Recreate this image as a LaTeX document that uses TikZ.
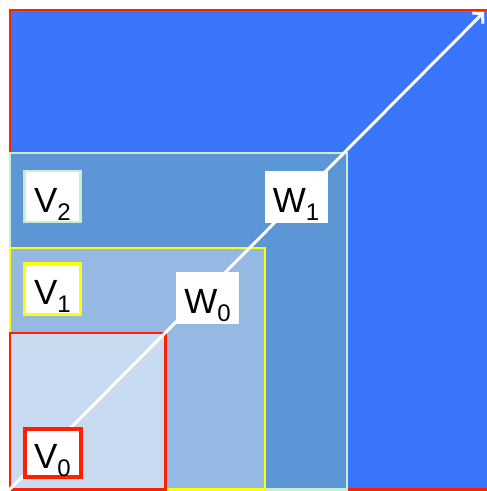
\documentclass[tikz,border=0pt]{standalone}
\usepackage{fontspec}
\setmainfont{Liberation Sans}
\usetikzlibrary{arrows.meta, positioning}
\definecolor{outerblue}{RGB}{58, 118, 252}
\definecolor{vtwofill}{RGB}{92, 150, 214}
\definecolor{vonefill}{RGB}{150, 185, 227}
\definecolor{vzerofill}{RGB}{201, 219, 240}
\definecolor{edgered}{RGB}{255, 32, 0}
\definecolor{edgegreen}{RGB}{200, 238, 205}
\definecolor{edgeyellow}{RGB}{255, 255, 0}
\newcommand{\sublbl}[2]{#1\raisebox{-8pt}{\fontsize{24}{24}\selectfont #2}}

\begin{document}
\begin{tikzpicture}[x=1pt, y=-1pt,
  lbl/.style={fill=white, inner sep=0pt, text height=33pt, text depth=2pt, font=\fontsize{35}{40}\selectfont},
  vlbl/.style={lbl, minimum width=56pt, minimum height=51pt},
  wlbl/.style={lbl, minimum width=63pt, minimum height=52pt}]
  \useasboundingbox (0,0) rectangle (487,491);

  % Nested regions
  \fill[outerblue] (10,489.5) rectangle (495,10);
  \draw[edgered, line width=2.5pt] (495,489.5) -- (10,489.5) -- (10,10) -- (495,10);
  \draw[edgegreen, line width=2.2pt, fill=vtwofill] (10,489.5) rectangle (347,153);
  \draw[edgeyellow, line width=2.5pt, fill=vonefill] (10,489.5) rectangle (265,248);
  \draw[edgered, line width=2.5pt, fill=vzerofill] (10,489.5) rectangle (165.5,333);

  % Arrow
  \coordinate (orig) at (9,490);
  \coordinate (tip) at (484,12);
  \draw[white, line width=3pt, -{Straight Barb[length=7pt, width=15pt]}] (orig) -- (tip);

  % Labels
  \node[vlbl, draw=edgegreen, line width=2.5pt] (v2) at (52.5,196.5) {\sublbl{V}{2}};
  \node[vlbl, draw=edgeyellow, line width=3pt] (v1) at (52.5,288.5) {\sublbl{V}{1}};
  \node[vlbl, draw=edgered, line width=4pt, minimum height=48pt] (v0) at (52.5,453) {\sublbl{V}{0}};

  \node[wlbl] (w1) at (296,196.5) {\sublbl{W}{1}};
  \node[wlbl] (w0) at (207.5,297.5) {\sublbl{W}{0}};
\end{tikzpicture}
\end{document}
